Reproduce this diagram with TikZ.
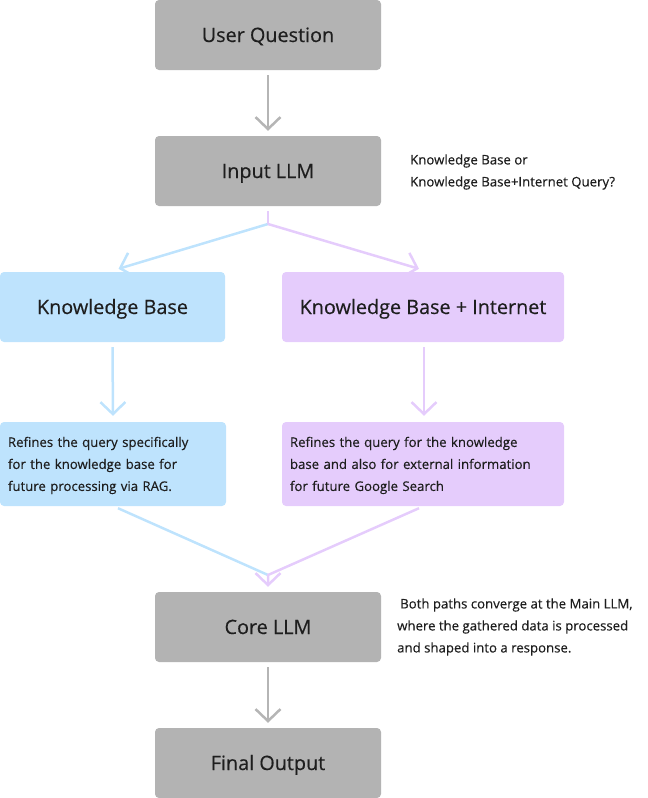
\documentclass[tikz,border=0pt]{standalone}
\usepackage{fontspec}
\setmainfont[FakeBold=0.4,AutoFakeBold=0.4]{Open Sans}
\usetikzlibrary{arrows.meta}
\definecolor{boxgrey}{HTML}{B3B3B3}
\definecolor{arrgrey}{HTML}{B5B5B5}
\definecolor{kbblue}{HTML}{BEE3FD}
\definecolor{kbpurple}{HTML}{E5CCFC}
\definecolor{txt}{HTML}{1E1E1E}
\begin{document}
\begin{tikzpicture}[x=1pt,y=-1pt,
  box/.style={rectangle, rounded corners=4pt, minimum height=70pt, inner sep=0pt, text height=14pt, text depth=0pt, text=txt, font=\fontsize{19.8}{24}\selectfont\bfseries},
  greybox/.style={box, fill=boxgrey, minimum width=226pt},
  descbox/.style={rectangle, rounded corners=4pt, minimum height=84pt, inner sep=0pt, text=txt, align=left, font=\fontsize{13.2}{22}\selectfont\bfseries},
  note/.style={anchor=west, align=left, inner sep=0pt, text=txt, font=\fontsize{13.2}{22}\selectfont\bfseries},
  head/.style={-{Straight Barb[length=12pt,width=25pt]}},
  greyarrow/.style={head, draw=arrgrey, line width=2.5pt},
  bluearrow/.style={head, draw=kbblue, line width=2.5pt},
  purplearrow/.style={head, draw=kbpurple, line width=2.5pt},
  blueline/.style={draw=kbblue, line width=2.5pt},
  purpleline/.style={draw=kbpurple, line width=2.5pt}]
\useasboundingbox (0,0) rectangle (648,798);

\node[greybox] (uq) at (268,35) {User Question};
\node[greybox] (in) at (268,171) {Input LLM};
\node[note] (q) at (410,172) {Knowledge Base or\\Knowledge Base+Internet Query?};

\node[box, fill=kbblue, minimum width=225pt] (kb) at (112.5,307) {Knowledge Base};
\node[box, fill=kbpurple, minimum width=282pt] (kbi) at (423,307) {Knowledge Base + Internet};

\node[descbox, fill=kbblue, minimum width=226pt, text width=210pt] (kbd) at (113,464)
  {\rule{0pt}{13pt}Refines the query specifically\\for the knowledge base for\\future processing via RAG.};
\node[descbox, fill=kbpurple, minimum width=282pt, text width=266pt] (kbid) at (423,464)
  {\rule{0pt}{13pt}Refines the query for the knowledge\\base and also for external information\\for future Google Search};

\node[greybox] (core) at (268,627) {Core LLM};
\node[note] (cn) at (397,627) {\hspace{3pt}Both paths converge at the Main LLM,\\where the gathered data is processed\\and shaped into a response.};
\node[greybox] (fin) at (268,763) {Final Output};

\coordinate (split) at (268,224);
\coordinate (conv) at (268,575);

\draw[greyarrow, shorten <=5pt, shorten >=5pt] (uq) -- (in);
\draw[bluearrow] (split) -- ([xshift=6pt,yshift=3pt]kb.north);
\draw[purplearrow] (split) -- ([xshift=-4pt,yshift=3pt]kbi.north);
\draw[purpleline] ([yshift=-5pt]in.south) -- (split);

\draw[bluearrow, shorten <=5pt, shorten >=6pt] (kb.south) -- (kbd.north);
\draw[purplearrow, shorten <=5pt, shorten >=6pt] ([xshift=1pt]kbi.south) -- ([xshift=1pt]kbid.north);

\draw[blueline] ([xshift=5pt,yshift=-2pt]kbd.south) -- (conv);
\draw[purplearrow] ([xshift=-4pt,yshift=-2pt]kbid.south) -- (conv) -- ([yshift=5pt]core.north);

\draw[greyarrow, shorten <=5pt, shorten >=5pt] (core) -- (fin);
\end{tikzpicture}
\end{document}
